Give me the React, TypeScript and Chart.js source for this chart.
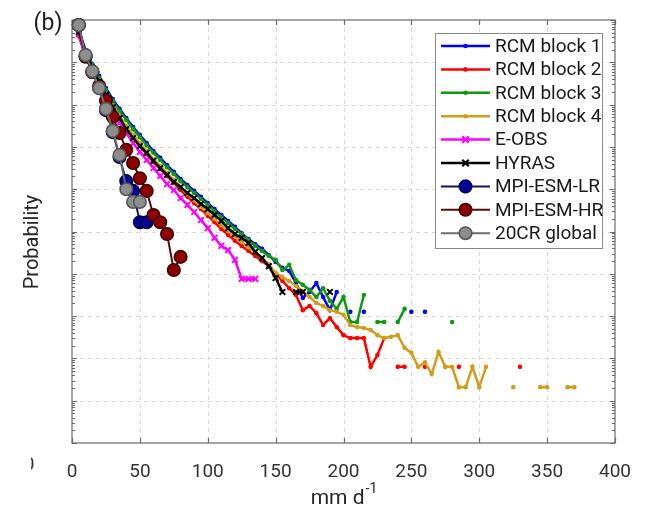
import React, { useEffect, useRef } from "react";
import { Chart, registerables } from "chart.js";

Chart.register(...registerables);

// x bins (mm/d)
const bins = [5, 10, 15, 20, 25, 30, 35, 40, 45, 50, 55, 60, 65, 70, 75, 80, 85, 90, 95, 100,
  105, 110, 115, 120, 125, 130, 135, 140, 145, 150, 155, 160, 165, 170, 175, 180, 185, 190, 195, 200,
  205, 210, 215, 220, 225, 230, 235, 240, 245, 250, 255, 260, 265, 270, 275, 280, 285, 290, 295, 300,
  305, 310, 315, 320, 325, 330, 335, 340, 345, 350, 355, 360, 365, 370];

// values: log10(probability); null = no event in bin
const rcmBlock1 = [-0.24, -0.71, -1.04, -1.32, -1.61, -1.87, -2.10, -2.32, -2.53, -2.72,
  -2.91, -3.10, -3.26, -3.43, -3.59, -3.76, -3.90, -4.04, -4.18, -4.33,
  -4.47, -4.61, -4.75, -4.89, -5.04, -5.18, -5.30, -5.41, -5.56, -5.72,
  -5.86, -5.93, -6.22, -6.57, -6.43, -6.22, -6.55, -6.86, -6.43, null,
  -6.90, null, -6.90, null, null, null, null, null, null, -6.90,
  null, -6.90];

const rcmBlock2 = [-0.38, -0.87, -1.21, -1.51, -1.80, -2.06, -2.32, -2.55, -2.77, -2.98,
  -3.17, -3.36, -3.52, -3.69, -3.85, -4.02, -4.18, -4.33, -4.47, -4.63,
  -4.78, -4.94, -5.08, -5.22, -5.34, -5.46, -5.58, -5.70, -5.82, -6.00,
  -6.17, -6.34, -6.50, -6.86, -6.76, -6.93, -7.21, -7.05, -7.26, -7.45,
  -7.52, -7.52, -7.52, -8.20, -7.92, -7.52, null, -8.20, -8.20, null,
  null, -8.20, null, null, -8.20, null, -8.20, null, null, null,
  null, null, null, null, null, -8.20];

const rcmBlock3 = [-0.26, -0.73, -1.06, -1.37, -1.65, -1.91, -2.15, -2.36, -2.58, -2.77,
  -2.96, -3.14, -3.31, -3.48, -3.64, -3.81, -3.95, -4.09, -4.23, -4.37,
  -4.52, -4.66, -4.80, -4.94, -5.06, -5.20, -5.34, -5.46, -5.58, -5.67,
  -5.91, -5.79, -6.15, -6.26, -6.38, -6.55, -6.34, -6.64, -6.83, -6.55,
  -7.14, -7.14, -6.50, null, -7.14, -7.14, null, -7.14, -6.83, null,
  null, null, null, null, null, -7.14];

const rcmBlock4 = [-0.31, -0.83, -1.16, -1.47, -1.75, -2.01, -2.27, -2.51, -2.72, -2.91,
  -3.10, -3.29, -3.45, -3.62, -3.78, -3.95, -4.11, -4.26, -4.42, -4.56,
  -4.70, -4.85, -4.99, -5.11, -5.25, -5.37, -5.48, -5.63, -5.77, -5.98,
  -6.08, -6.17, -6.29, -6.41, -6.55, -6.69, -6.76, -6.86, -6.90, -6.97,
  -7.21, -7.26, -7.28, -7.33, -7.45, -7.52, -7.49, -7.45, -7.75, -7.87,
  -8.20, -8.09, -8.37, -7.85, -8.20, -8.20, -8.68, -8.68, -8.20, -8.68,
  -8.20, null, null, null, -8.68, null, null, null, -8.68, -8.68,
  null, null, -8.68, -8.68];

const eObs = [-0.33, -0.85, -1.23, -1.58, -1.89, -2.17, -2.43, -2.67, -2.91, -3.12,
  -3.31, -3.50, -3.69, -3.88, -4.02, -4.21, -4.37, -4.54, -4.73, -4.92,
  -5.15, -5.34, -5.44, -5.67, -6.12, -6.12, -6.12];

const hyras = [-0.28, -0.76, -1.13, -1.47, -1.77, -2.06, -2.32, -2.58, -2.79, -2.98,
  -3.14, -3.33, -3.50, -3.66, -3.83, -3.95, -4.09, -4.21, -4.35, -4.47,
  -4.61, -4.75, -4.92, -5.06, -5.15, -5.27, -5.48, -5.63, -5.82, -6.10,
  -6.43, null, -6.43, -6.43, null, null, null, -6.43];

const mpiEsmLr = [-0.12, -0.85, -1.23, -1.61, -2.13, -2.65, -3.24, -3.81, -4.04, -4.78, -4.78];

const mpiEsmHr = [-0.12, -0.87, -1.23, -1.56, -1.91, -2.29, -2.67, -3.07, -3.38, -3.74,
  -4.04, -4.61, -4.78, -5.06, -5.91, -5.60];

const global20cr = [-0.12, -0.83, -1.21, -1.61, -2.10, -2.62, -3.19, -4.00, -4.30, -4.30];

const xTicks = [0, 50, 100, 150, 200, 250, 300, 350, 400];
const yDecades = [1e-10, 1e-9, 1e-8, 1e-7, 1e-6, 1e-5, 1e-4, 1e-3, 1e-2, 1e-1, 1];

const FONT = "Roboto, 'DejaVu Sans', sans-serif";
const GRID = "#d9d9d9";
const AXIS = "#6a6a6a";

type Marker = "dot" | "x" | "circle";
interface SeriesDef {
  label: string;
  values: (number | null)[];
  line: string;
  marker: Marker;
  fill?: string;
  edge?: string;
  width: number;
}

const series: SeriesDef[] = [
  { label: "RCM block 1", values: rcmBlock1, line: "#0000ff", marker: "dot", width: 2.5 },
  { label: "RCM block 2", values: rcmBlock2, line: "#ff0000", marker: "dot", width: 2.5 },
  { label: "RCM block 3", values: rcmBlock3, line: "#0e990e", marker: "dot", width: 2.5 },
  { label: "RCM block 4", values: rcmBlock4, line: "#d29d1a", marker: "dot", width: 2.5 },
  { label: "E-OBS", values: eObs, line: "#ff00ff", marker: "x", width: 2.5 },
  { label: "HYRAS", values: hyras, line: "#000000", marker: "x", width: 2.5 },
  { label: "MPI-ESM-LR", values: mpiEsmLr, line: "#13135e", marker: "circle", fill: "#00009c", edge: "#00003c", width: 2 },
  { label: "MPI-ESM-HR", values: mpiEsmHr, line: "#5a0a0a", marker: "circle", fill: "#8e0000", edge: "#3c0000", width: 2 },
  { label: "20CR global", values: global20cr, line: "#6b6b6b", marker: "circle", fill: "#8d8d8d", edge: "#555555", width: 2 },
];

function toPoints(vals: (number | null)[]) {
  return vals.map((v, i) => ({ x: bins[i], y: v === null ? null : Math.pow(10, v) }));
}

function drawMarker(ctx: CanvasRenderingContext2D, s: SeriesDef, x: number, y: number) {
  if (s.marker === "dot") {
    ctx.fillStyle = s.line;
    ctx.beginPath();
    ctx.arc(x, y, 2.3, 0, Math.PI * 2);
    ctx.fill();
  } else if (s.marker === "x") {
    ctx.strokeStyle = s.line;
    ctx.lineWidth = 2.2;
    const r = 3.2;
    ctx.beginPath();
    ctx.moveTo(x - r, y - r); ctx.lineTo(x + r, y + r);
    ctx.moveTo(x - r, y + r); ctx.lineTo(x + r, y - r);
    ctx.stroke();
  } else {
    ctx.fillStyle = s.fill || s.line;
    ctx.strokeStyle = s.edge || s.line;
    ctx.lineWidth = 1.5;
    ctx.beginPath();
    ctx.arc(x, y, 6.3, 0, Math.PI * 2);
    ctx.fill();
    ctx.stroke();
  }
}

const matlabPlugin = {
  id: "matlabLook",
  beforeDatasetsDraw(chart: any) {
    const { ctx, chartArea } = chart;
    const { left, right, top, bottom } = chartArea;
    const xs = chart.scales.x;
    const ys = chart.scales.y;
    ctx.save();
    // dashed grid
    ctx.strokeStyle = GRID;
    ctx.lineWidth = 1;
    ctx.setLineDash([4, 4]);
    ctx.beginPath();
    xTicks.forEach((v) => {
      const px = Math.round(xs.getPixelForValue(v)) + 0.5;
      if (px > left + 1 && px < right - 1) {
        ctx.moveTo(px, top);
        ctx.lineTo(px, bottom);
      }
    });
    yDecades.forEach((v) => {
      const py = Math.round(ys.getPixelForValue(v)) + 0.5;
      if (py > top + 1 && py < bottom - 1) {
        ctx.moveTo(left, py);
        ctx.lineTo(right, py);
      }
    });
    ctx.stroke();
    ctx.setLineDash([]);
    // box
    ctx.strokeStyle = AXIS;
    ctx.lineWidth = 1.2;
    ctx.strokeRect(left, top, right - left, bottom - top);
    // ticks
    ctx.beginPath();
    xTicks.forEach((v) => {
      const px = Math.round(xs.getPixelForValue(v)) + 0.5;
      ctx.moveTo(px, bottom); ctx.lineTo(px, bottom - 5);
      ctx.moveTo(px, top); ctx.lineTo(px, top + 5);
    });
    yDecades.forEach((d) => {
      for (let m = 1; m <= 9; m++) {
        const val = d * m;
        if (val > 1) break;
        const py = Math.round(ys.getPixelForValue(val)) + 0.5;
        const len = m === 1 ? 5 : 3;
        ctx.moveTo(left, py); ctx.lineTo(left + len, py);
        ctx.moveTo(right, py); ctx.lineTo(right - len, py);
      }
    });
    ctx.stroke();
    ctx.restore();
  },
  afterDraw(chart: any) {
    const { ctx, chartArea } = chart;
    const { left, right } = chartArea;
    ctx.save();
    // panel label
    ctx.fillStyle = "#1a1a1a";
    ctx.font = `23px ${FONT}`;
    ctx.textAlign = "center";
    ctx.textBaseline = "middle";
    ctx.fillText("(b)", 48, 24);
    // y title
    ctx.save();
    ctx.translate(33, 242);
    ctx.rotate(-Math.PI / 2);
    ctx.font = `20px ${FONT}`;
    ctx.fillStyle = "#262626";
    ctx.fillText("Probability", 0, 0);
    ctx.restore();
    // x title with superscript
    ctx.font = `21px ${FONT}`;
    const main = "mm d";
    const sup = "-1";
    const w1 = ctx.measureText(main).width;
    ctx.font = `14px ${FONT}`;
    const w2 = ctx.measureText(sup).width;
    const cx = (left + right) / 2;
    const x0 = cx - (w1 + w2) / 2;
    ctx.textAlign = "left";
    ctx.textBaseline = "alphabetic";
    ctx.fillStyle = "#262626";
    ctx.font = `21px ${FONT}`;
    ctx.fillText(main, x0, 504);
    ctx.font = `14px ${FONT}`;
    ctx.fillText(sup, x0 + w1 + 1, 493);
    // cropped leftover label at far left
    ctx.save();
    ctx.beginPath();
    ctx.rect(31, 440, 12, 40);
    ctx.clip();
    ctx.font = `19px ${FONT}`;
    ctx.fillStyle = "#333333";
    ctx.textAlign = "center";
    ctx.textBaseline = "middle";
    ctx.fillText("0", 29, 465);
    ctx.restore();
    // legend
    const bx = 435, by = 33, bw = 167, bh = 215;
    ctx.fillStyle = "#ffffff";
    ctx.fillRect(bx, by, bw, bh);
    ctx.strokeStyle = "#8a8a8a";
    ctx.lineWidth = 1;
    ctx.strokeRect(bx + 0.5, by + 0.5, bw, bh);
    ctx.font = `19px ${FONT}`;
    ctx.textAlign = "left";
    ctx.textBaseline = "middle";
    series.forEach((s, i) => {
      const yy = 46 + i * 23.4;
      ctx.strokeStyle = s.line;
      ctx.lineWidth = s.width;
      ctx.beginPath();
      ctx.moveTo(441, yy);
      ctx.lineTo(490, yy);
      ctx.stroke();
      drawMarker(ctx, s, 465.5, yy);
      ctx.fillStyle = "#1a1a1a";
      ctx.fillText(s.label, 495, yy + 1);
    });
    ctx.restore();
  },
};

export default function App() {
  const ref = useRef<HTMLCanvasElement>(null);
  useEffect(() => {
    if (!ref.current) return;
    const n = series.length;
    const datasets = series.map((s, i) => {
      const base: any = {
        label: s.label,
        data: toPoints(s.values),
        borderColor: s.line,
        borderWidth: s.width,
        backgroundColor: s.line,
        order: n - 1 - i,
        spanGaps: false,
        tension: 0,
      };
      if (s.marker === "dot") {
        Object.assign(base, { pointStyle: "circle", pointRadius: 2.3, pointBackgroundColor: s.line, pointBorderWidth: 0 });
      } else if (s.marker === "x") {
        Object.assign(base, { pointStyle: "crossRot", pointRadius: 4, pointBorderColor: s.line, pointBorderWidth: 2 });
      } else {
        Object.assign(base, {
          pointStyle: "circle", pointRadius: 6.3, pointBackgroundColor: s.fill,
          pointBorderColor: s.edge, pointBorderWidth: 1.5, clip: false,
        });
      }
      return base;
    });
    const chart = new Chart(ref.current, {
      type: "line",
      data: { datasets },
      options: {
        animation: false,
        responsive: false,
        layout: { padding: { top: 20, right: 31, left: 0, bottom: 0 } },
        plugins: { legend: { display: false }, tooltip: { enabled: false } },
        scales: {
          x: {
            type: "linear",
            min: 0,
            max: 400,
            afterFit: (s: any) => { s.height = 64; },
            afterBuildTicks: (s: any) => { s.ticks = xTicks.map((v) => ({ value: v })); },
            ticks: { font: { family: FONT, size: 19 }, color: "#333333", padding: 10, autoSkip: false, maxRotation: 0 },
            grid: { display: false },
            border: { display: false },
          },
          y: {
            type: "logarithmic",
            min: 1e-10,
            max: 1,
            afterFit: (s: any) => { s.width = 72; },
            ticks: { display: false },
            grid: { display: false },
            border: { display: false },
          },
        },
      },
      plugins: [matlabPlugin],
    } as any);
    return () => chart.destroy();
  }, []);
  return (
    <div style={{ position: "absolute", left: 0, top: 0, width: 646, height: 507, background: "#ffffff" }}>
      <canvas ref={ref} width={646} height={507} style={{ display: "block", width: 646, height: 507 }} />
    </div>
  );
}
